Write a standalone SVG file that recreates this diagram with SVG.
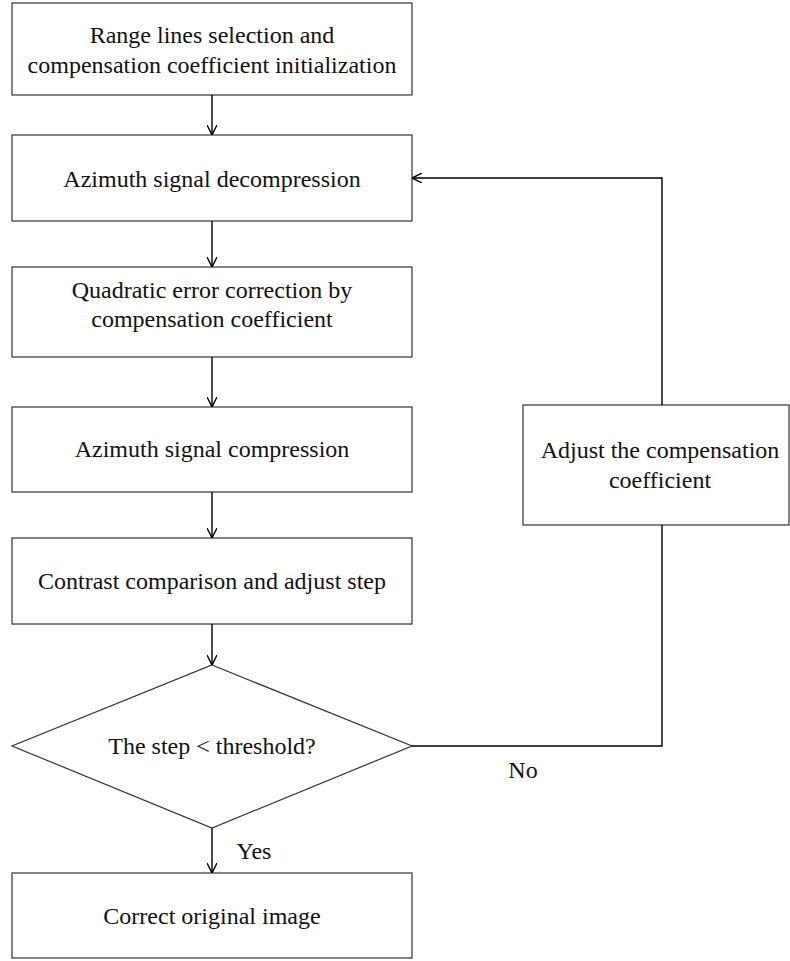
<svg xmlns="http://www.w3.org/2000/svg" width="790" height="961" viewBox="0 0 790 961">
<defs>
<marker id="arr" viewBox="0 0 10 10" refX="10" refY="5" markerWidth="10" markerHeight="10" markerUnits="userSpaceOnUse" orient="auto">
<path d="M0,0 L10,5 L0,10" fill="none" stroke="#000" stroke-width="1.4"/>
</marker>
<style>
.box{fill:#fff;stroke:#333;stroke-width:1.2}
.t{font-family:"Liberation Serif","Times New Roman",serif;font-size:24px;fill:#111;text-anchor:middle}
.c{fill:none;stroke:#000;stroke-width:1.4}
</style>
</defs>
<rect width="790" height="961" fill="#fff"/>
<g id="n1"><rect class="box" x="12" y="3" width="400" height="92"/><text class="t" x="212" y="43">Range lines selection  and</text><text class="t" x="212" y="73">compensation coefficient  initialization</text></g>
<g id="n2"><rect class="box" x="12" y="135" width="400" height="86"/><text class="t" x="212" y="187">Azimuth signal  decompression</text></g>
<g id="n3"><rect class="box" x="12" y="267" width="400" height="90"/><text class="t" x="212" y="298">Quadratic error correction by</text><text class="t" x="212" y="327">compensation coefficient</text></g>
<g id="n4"><rect class="box" x="12" y="407" width="400" height="85"/><text class="t" x="212" y="457">Azimuth signal compression</text></g>
<g id="n5"><rect class="box" x="12" y="538" width="400" height="86"/><text class="t" x="212" y="589">Contrast comparison and adjust step</text></g>
<g id="n6"><polygon class="box" points="212,665 412,746 212,828 12,746"/><text class="t" x="212" y="754">The step &lt; threshold?</text></g>
<g id="n7"><rect class="box" x="12" y="873" width="400" height="85"/><text class="t" x="212" y="924">Correct original image</text></g>
<g id="n8"><rect class="box" x="523" y="405" width="266" height="120"/><text class="t" x="660" y="458">Adjust the compensation</text><text class="t" x="660" y="488">coefficient</text></g>
<g id="connectors">
<line class="c" x1="212" y1="95" x2="212" y2="135" marker-end="url(#arr)"/>
<line class="c" x1="212" y1="221" x2="212" y2="267" marker-end="url(#arr)"/>
<line class="c" x1="212" y1="357" x2="212" y2="407" marker-end="url(#arr)"/>
<line class="c" x1="212" y1="492" x2="212" y2="538" marker-end="url(#arr)"/>
<line class="c" x1="212" y1="624" x2="212" y2="665" marker-end="url(#arr)"/>
<line class="c" x1="212" y1="828" x2="212" y2="873" marker-end="url(#arr)"/>
<polyline class="c" points="412,746 662,746 662,525"/>
<polyline class="c" points="662,405 662,178 412,178" marker-end="url(#arr)"/>
<text class="t" x="254" y="859">Yes</text>
<text class="t" x="523" y="778">No</text>
</g>
</svg>
